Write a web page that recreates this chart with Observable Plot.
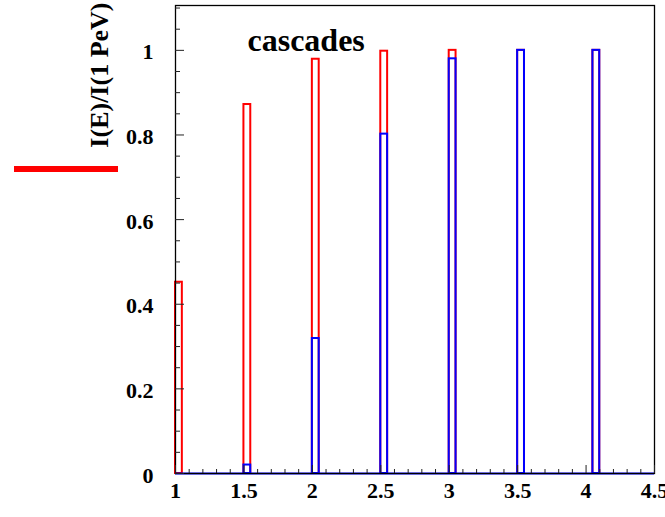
<!DOCTYPE html>
<html><head><meta charset="utf-8">
<script src="https://cdn.jsdelivr.net/npm/d3@7"></script>
<script src="https://cdn.jsdelivr.net/npm/@observablehq/plot@0.6"></script>
<style>
body{margin:0;background:#fff;}
#wrap{position:relative;width:665px;height:517px;overflow:hidden;background:#fff;}
#wrap svg{overflow:hidden;}
#legend{position:absolute;left:14px;top:166px;width:104px;height:6px;background:#ff0000;}
</style></head><body><div id="wrap"><div id="legend"></div></div>
<script>
// histogram bins (lower edges) and bin width, in lg(E/TeV)
const binStart = [1.0, 1.5, 2.0, 2.5, 3.0, 3.5, 4.05];
const binWidth = 0.05;
// I(E)/I(1 PeV) for the two series
const redValues  = [0.452, 0.872, 0.979, 0.998, 1.0, 1.0, 1.0];
const blueValues = [0.0, 0.02, 0.319, 0.802, 0.980, 1.0, 1.0];
// ticks and labels
const xMajorTicks = [1, 1.5, 2, 2.5, 3, 3.5, 4, 4.5];
const xTickLabels = ["1", "1.5", "2", "2.5", "3", "3.5", "4", "4.5"];
const xMinorTicks = [1.1,1.2,1.3,1.4,1.6,1.7,1.8,1.9,2.1,2.2,2.3,2.4,2.6,2.7,2.8,2.9,3.1,3.2,3.3,3.4,3.6,3.7,3.8,3.9,4.1,4.2,4.3,4.4];
const yMajorTicks = [0, 0.2, 0.4, 0.6, 0.8, 1];
const yTickLabels = ["0", "0.2", "0.4", "0.6", "0.8", "1"];
const yMinorTicks = [0.05,0.1,0.15,0.25,0.3,0.35,0.45,0.5,0.55,0.65,0.7,0.75,0.85,0.9,0.95,1.05,1.1];
const yTitle = "I(E)/I(1 PeV)";
const xTitle = "lg(E/TeV)";
const plotLabel = "cascades";

const red = binStart.map((x, i) => ({x1: x, x2: x + binWidth, y: redValues[i]}));
const blue = binStart.map((x, i) => ({x1: x, x2: x + binWidth, y: blueValues[i]}));
const font = '"Liberation Serif","Times New Roman",serif';

const chart = Plot.plot({
  width: 665, height: 506,
  marginLeft: 175, marginRight: 11, marginTop: 5, marginBottom: 33,
  style: {fontFamily: font, background: "#fff", color: "#000", overflow: "hidden"},
  x: {domain: [1, 4.5]},
  y: {domain: [0, 1.106]},
  marks: [
    Plot.rectY(red, {x1: "x1", x2: "x2", y: "y", fill: "none", stroke: "#ff0000", strokeWidth: 2}),
    Plot.rectY(blue, {x1: "x1", x2: "x2", y: "y", fill: "none", stroke: "#0000ff", strokeWidth: 2}),
    Plot.ruleY([0], {stroke: "#0000ff", strokeWidth: 2}),
    Plot.frame({stroke: "#000", strokeWidth: 1.3}),
    Plot.axisX({ticks: xMinorTicks, tickSize: 4, dy: -4, tickFormat: () => "", stroke: "#222", label: null}),
    Plot.axisX({ticks: xMajorTicks, tickSize: 8, dy: -8, tickFormat: () => "", stroke: "#222", label: null}),
    Plot.axisX({ticks: xMajorTicks, tickSize: 0, tickPadding: 9, tickFormat: d => xTickLabels[xMajorTicks.indexOf(d)], fontSize: 22, fontWeight: "bold", label: null}),
    Plot.axisY({ticks: yMinorTicks, tickSize: 5, dx: 5, tickFormat: () => "", stroke: "#222", label: null}),
    Plot.axisY({ticks: yMajorTicks, tickSize: 9, dx: 9, tickFormat: () => "", stroke: "#222", label: null}),
    Plot.axisY({ticks: yMajorTicks, tickSize: 0, tickPadding: 22, dy: 2, tickFormat: d => yTickLabels[yMajorTicks.indexOf(d)], fontSize: 22, fontWeight: "bold", label: null}),
    Plot.text([yTitle], {text: d => d, frameAnchor: "top-left", rotate: -90, textAnchor: "end", dx: -86, dy: -3, fontSize: 26, fontWeight: "bold"}),
    Plot.text([plotLabel], {text: d => d, frameAnchor: "top-left", textAnchor: "start", dx: 72, dy: 23, fontSize: 32, fontWeight: "bold"}),
    Plot.text([xTitle], {text: d => d, frameAnchor: "bottom-right", textAnchor: "end", dx: 2, dy: 54, fontSize: 32, fontWeight: "bold"})
  ]
});
document.getElementById("wrap").prepend(chart);
</script>
</body></html>
